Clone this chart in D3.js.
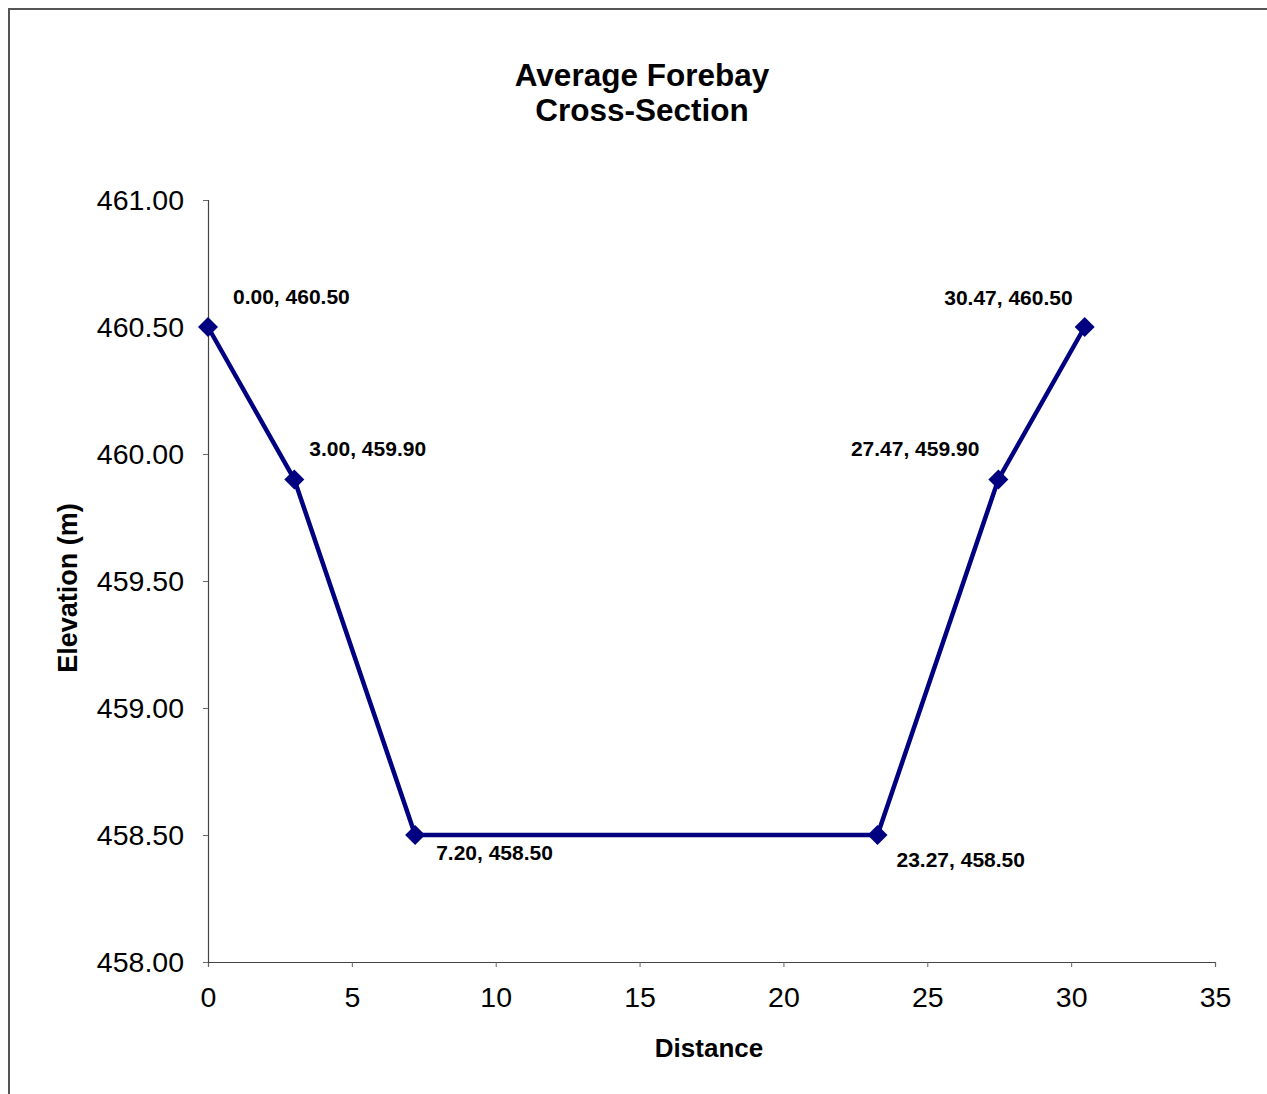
<!DOCTYPE html>
<html><head><meta charset="utf-8">
<script src="https://cdn.jsdelivr.net/npm/d3@7"></script>
<style>body{margin:0;background:#fff}svg{display:block}</style>
</head><body>
<script>
const distance = [0.00, 3.00, 7.20, 23.27, 27.47, 30.47];
const elevation = [460.50, 459.90, 458.50, 458.50, 459.90, 460.50];
const pointLabels = ["0.00, 460.50","3.00, 459.90","7.20, 458.50","23.27, 458.50","27.47, 459.90","30.47, 460.50"];
const xTicks = [0,5,10,15,20,25,30,35];
const yTicks = [458.00,458.50,459.00,459.50,460.00,460.50,461.00];
// label placement offsets (px) relative to point
const labelDx = [25, 15, 21, 19, -19, -12];
const labelDy = [-23, -23, 25, 32, -23, -22];
const labelAnchor = ["start","start","start","start","end","end"];

const W = 1267, H = 1094;
const svg = d3.select("body").append("svg").attr("width", W).attr("height", H);
svg.append("rect").attr("x",9).attr("y",9).attr("width",W+10).attr("height",H+10)
  .attr("fill","#fff").attr("stroke","#555").attr("stroke-width",2);

const x = d3.scaleLinear().domain([0,35]).range([208,1215]);
const y = d3.scaleLinear().domain([458,461]).range([962,200]);

const font = "Arial, 'Liberation Sans', sans-serif";

svg.append("text").attr("x",642).attr("y",86).attr("text-anchor","middle")
  .attr("font-family",font).attr("font-weight","bold").attr("font-size",31.5).text("Average Forebay");
svg.append("text").attr("x",642).attr("y",121).attr("text-anchor","middle")
  .attr("font-family",font).attr("font-weight","bold").attr("font-size",31.5).text("Cross-Section");

const xAxis = svg.append("g").attr("transform","translate(0,962)")
  .call(d3.axisBottom(x).tickValues(xTicks).tickSize(5).tickPadding(20).tickFormat(d3.format("d")));
const yAxis = svg.append("g").attr("transform","translate(208,0)")
  .call(d3.axisLeft(y).tickValues(yTicks).tickSize(5).tickPadding(19).tickFormat(d3.format(".2f")));
[xAxis,yAxis].forEach(g=>{
  g.select(".domain").attr("stroke","#444").attr("stroke-width",1.2);
  g.selectAll(".tick line").attr("stroke","#666");
  g.selectAll(".tick text").attr("font-family",font).attr("font-size",28.5).attr("fill","#000");
});

svg.append("text").attr("x",709).attr("y",1057).attr("text-anchor","middle")
  .attr("font-family",font).attr("font-weight","bold").attr("font-size",26).text("Distance");
svg.append("text").attr("transform","translate(77,588) rotate(-90)").attr("text-anchor","middle")
  .attr("font-family",font).attr("font-weight","bold").attr("font-size",27).text("Elevation (m)");

const pts = distance.map((d,i)=>[d, elevation[i]]);
svg.append("path").datum(pts)
  .attr("d", d3.line().x(d=>x(d[0])).y(d=>y(d[1])))
  .attr("fill","none").attr("stroke","#000080").attr("stroke-width",4.5).attr("stroke-linejoin","round");

svg.selectAll(".marker").data(pts).enter().append("path")
  .attr("transform", d=>`translate(${x(d[0])},${y(d[1])})`)
  .attr("d","M0,-10L10,0L0,10L-10,0Z").attr("fill","#000080");

svg.selectAll(".lbl").data(pts).enter().append("text")
  .attr("x",(d,i)=>x(d[0])+labelDx[i]).attr("y",(d,i)=>y(d[1])+labelDy[i])
  .attr("text-anchor",(d,i)=>labelAnchor[i])
  .attr("font-family",font).attr("font-weight","bold").attr("font-size",21)
  .text((d,i)=>pointLabels[i]);
</script>
</body></html>
